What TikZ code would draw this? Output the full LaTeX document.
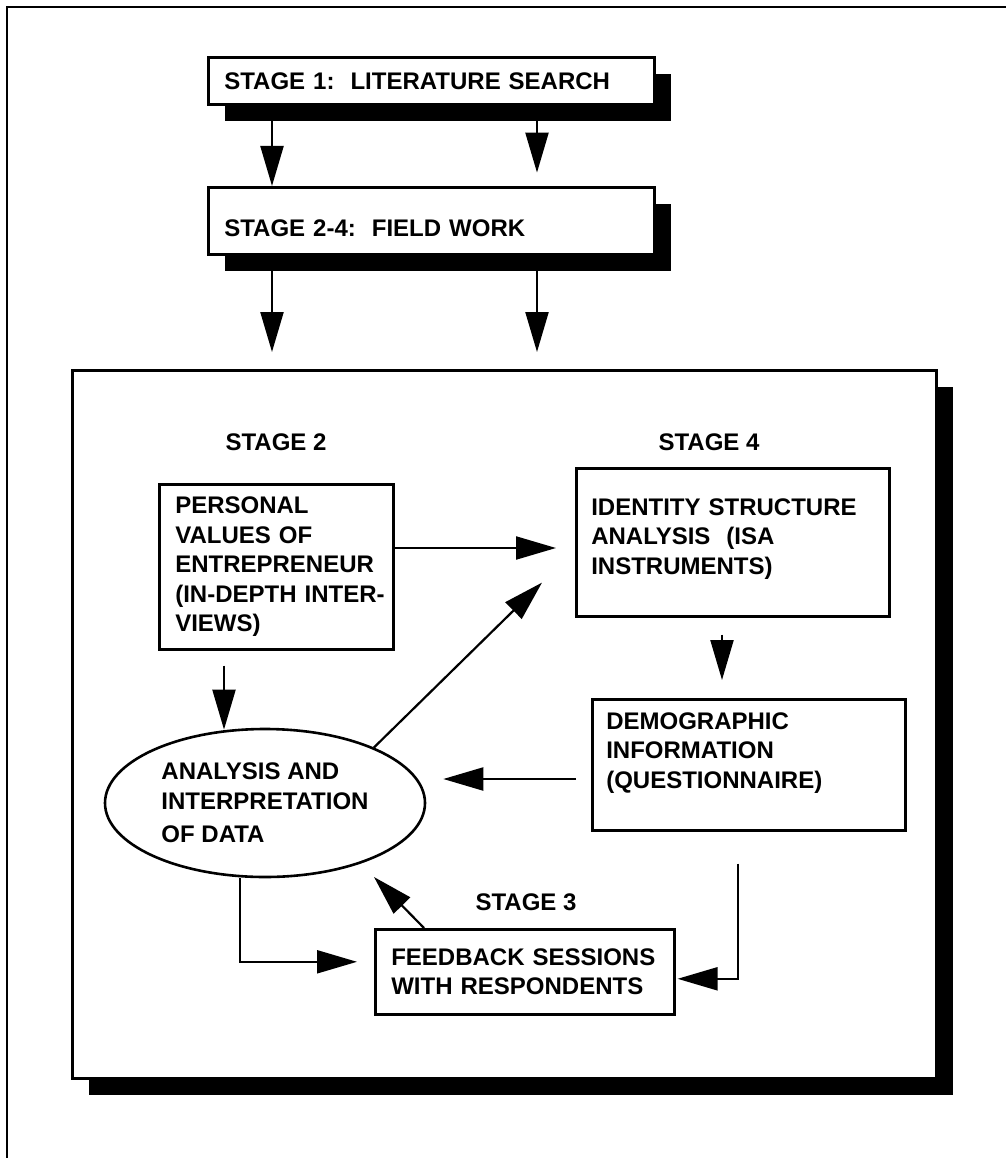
\documentclass[tikz,border=0pt]{standalone}
\usepackage{fontspec}
\setmainfont{Liberation Sans}
\usepackage{tikz}
\usetikzlibrary{arrows.meta,positioning,calc,shapes.geometric,shadows}

\begin{document}
\begin{tikzpicture}[
  x=1pt, y=-1pt,
  >={Triangle[length=40pt,width=23pt]},
  box/.style={draw, line width=2.6pt, fill=white, anchor=north west, align=left,
              font=\bfseries\fontsize{24}{29.5}\selectfont},
  shbox/.style={box, drop shadow={shadow xshift=17pt, shadow yshift=-17pt,
              fill=black, opacity=1}},
  stagelbl/.style={font=\bfseries\fontsize{24}{29.5}\selectfont},
  link/.style={->, line width=2.2pt},
]
\useasboundingbox (0,0) rectangle (1006,1158);
% frame
\draw[line width=2.7pt] (7,1158) -- (7,7) -- (1006,7);

% Stage 1 and Stage 2-4
\node[shbox, minimum width=446pt, minimum height=47pt, inner xsep=16pt,
      text width=414pt] (stage1) at (207,56) {STAGE 1:~~LITERATURE SEARCH};
\node[shbox, minimum width=446pt, minimum height=67pt, inner xsep=16pt,
      text width=414pt] (fieldwork) at (207,186)
  {\rule{0pt}{32pt}STAGE 2-4:~~FIELD WORK};
\draw[link] ($(stage1.south west)+(65,0)$) -- ($(fieldwork.north west)+(65,0)$);
\draw[link] ($(stage1.south west)+(330,0)$) -- ($(stage1.south west)+(330,67)$);

% field work frame
\node[shbox, minimum width=864pt, minimum height=708pt] (field) at (71,369) {};
\draw[link] ($(fieldwork.south west)+(65,0)$) -- ($(field.north west)+(201,-17)$);
\draw[link] ($(fieldwork.south west)+(330,0)$) -- ($(field.north west)+(466,-17)$);

% stage labels
\node[stagelbl] (lbl2) at (276,442) {STAGE 2};
\node[stagelbl] (lbl4) at (709,442) {STAGE 4};
\node[stagelbl] (lbl3) at (526,902) {STAGE 3};

% boxes
\node[box, minimum width=234pt, minimum height=165pt, inner xsep=16pt,
      text width=202pt] (personal) at (158,483)
  {PERSONAL\\VALUES OF\\ENTREPRENEUR\\\mbox{(IN-DEPTH INTER-}\\VIEWS)};
\node[box, minimum width=313pt, minimum height=148pt, inner xsep=15pt,
      text width=283pt] (isa) at (575,467)
  {IDENTITY STRUCTURE\\ANALYSIS~~(ISA\\INSTRUMENTS)\rule[-12pt]{0pt}{0pt}};
\node[box, minimum width=313pt, minimum height=131pt, inner xsep=14pt,
      text width=285pt] (demo) at (591,698)
  {DEMOGRAPHIC\\INFORMATION\\(QUESTIONNAIRE)\rule[-29pt]{0pt}{0pt}};
\node[box, minimum width=299pt, minimum height=85pt, inner xsep=16pt,
      text width=267pt] (feedback) at (374,928)
  {FEEDBACK SESSIONS\\WITH RESPONDENTS};
\node[ellipse, draw, line width=2.6pt, inner sep=0pt, minimum width=320pt,
      minimum height=148pt, align=left,
      font=\bfseries\fontsize{24}{29.5}\selectfont] (analysis) at (265,803)
  {ANALYSIS AND\\INTERPRETATION\\[4pt]OF DATA};

% connectors
\draw[link] ($(personal.north east)+(0,65)$) -- ($(isa.north west)+(-19,81)$);
\draw[link] ($(personal.south west)+(66,15)$) -- ($(personal.south west)+(66,79)$);
\draw[link] (analysis.27) -- ($(isa.south west)+(-33,-35)$);
\draw[link] ($(isa.south west)+(147,17)$) -- ($(demo.north west)+(131,-18)$);
\draw[link] ($(demo.north west)+(-15,81)$) -- ($(analysis.east)+(17,-24)$);
\draw[link] ($(analysis.south)+(-25,0)$) |- ($(feedback.west)+(-17,-10)$);
\draw[link] ($(feedback.north west)+(50,0)$) -- ($(feedback.north west)+(0,-51)$);
\draw[link] ($(demo.south west)+(147,32)$) |- ($(feedback.east)+(2,7)$);
\end{tikzpicture}
\end{document}
